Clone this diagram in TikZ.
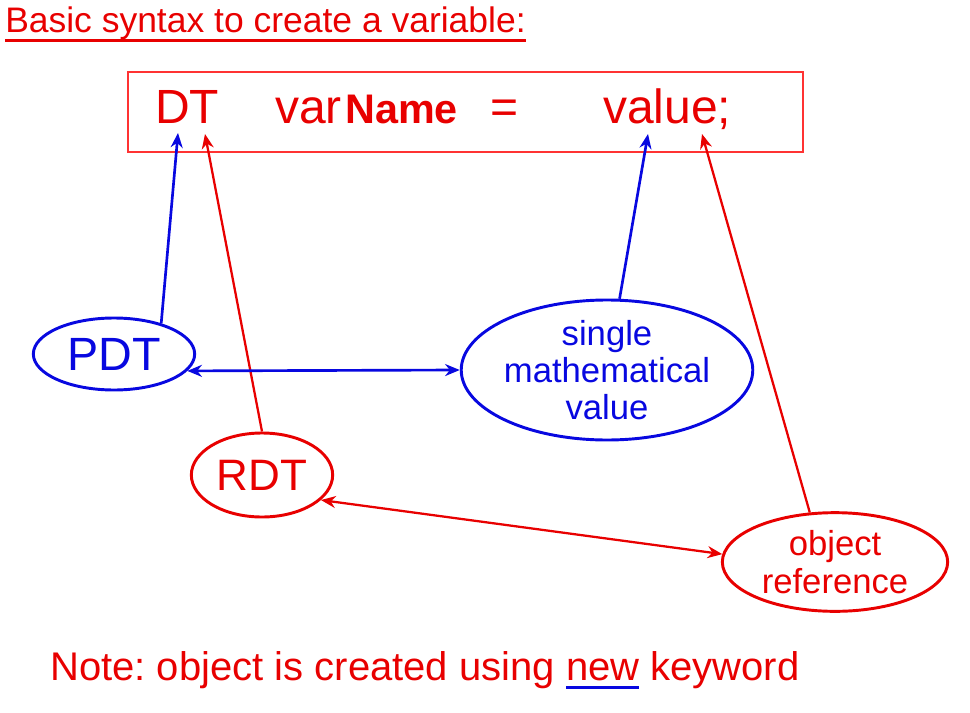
\documentclass[tikz,border=0pt]{standalone}
\usepackage{fontspec}
\setmainfont{Liberation Sans}
\usetikzlibrary{arrows.meta,shapes.geometric}

\definecolor{slidered}{RGB}{232,0,0}
\definecolor{slideblue}{RGB}{8,8,224}
\newcommand{\fs}[2]{\fontsize{#1}{#2}\selectfont}
\newcommand{\ulnew}[1]{\setbox0\hbox{#1}\rlap{\color{slideblue}\rule[-6.5pt]{\wd0}{2.2pt}}\box0}
\frenchspacing

\begin{document}
\begin{tikzpicture}[x=0.75pt, y=-0.75pt,
    >={Stealth[length=11pt,width=9pt]},
    word/.style={inner sep=0pt, text=slidered, anchor=base west},
    oval/.style={ellipse, draw, line width=2.2pt, inner sep=0pt, align=center},
    blue oval/.style={oval, draw=slideblue, text=slideblue},
    red oval/.style={oval, draw=slidered, text=slidered},
    blue link/.style={draw=slideblue, line width=2pt},
    red link/.style={draw=slidered, line width=1.7pt}
]
\useasboundingbox (0,0) rectangle (970,713);

\node[word] (title) at (5,33) {\fs{26.6}{30}Basic syntax to create a variable:};
\draw[slidered, line width=2.2pt] ([yshift=-5.5pt]title.base west) -- ([yshift=-5.5pt]title.base east);

\node[draw=red!80, line width=1.1pt, minimum width=506pt, minimum height=60pt] (box) at (465.5,112) {};
\node[word] (DT) at (155,124) {\fs{36}{40}DT};
\node[word] (var) at (275,124) {\fs{36}{40}var};
\node[word] (Name) at (345,124) {\fs{31}{36}\bfseries Name};
\node[word, anchor=base] (eq) at (505,124) {\fs{36}{40}=};
\node[word] (val) at (603,124) {\fs{36}{40}value;};

\coordinate (DTb) at (178,133);
\coordinate (DTr) at (205,134);
\coordinate (valb) at (648,134);
\coordinate (valr) at (702,134);

\node[blue oval, minimum width=121pt, minimum height=54pt, font=\fs{35}{40}] (PDT) at (114,354) {PDT};
\node[red oval, minimum width=106pt, minimum height=63pt, font=\fs{33}{38}] (RDT) at (262,475) {RDT};
\node[blue oval, minimum width=214pt, minimum height=105pt, font=\fs{26}{27.5}] (SMV) at (607,370)
    {single\\mathematical\\value};
\node[red oval, minimum width=169pt, minimum height=74pt, font=\fs{26}{29}] (ORef) at (835,562)
    {object\\reference};

\draw[blue link,->] (PDT.33) -- (DTb);
\draw[red link,->] (RDT.north) -- (DTr);
\draw[blue link,->] (SMV.80) -- (valb);
\draw[red link,->] (ORef.117) -- (valr);
\draw[blue link,<->] (PDT.-13) -- (SMV.west);
\draw[red link,<->] (RDT.-23) -- (ORef.176);

\node[word] (note) at (50,680) {\fs{30}{34}Note: object is created using \ulnew{new}\ keyword};
\end{tikzpicture}
\end{document}
